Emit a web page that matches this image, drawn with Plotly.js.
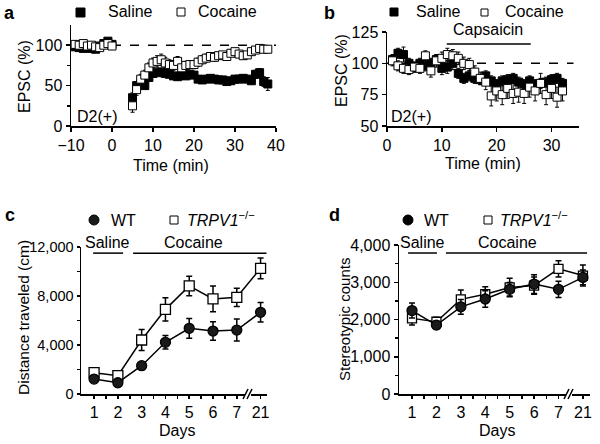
<!DOCTYPE html>
<html><head><meta charset="utf-8">
<script src="https://cdn.plot.ly/plotly-3.0.1.min.js"></script>
<style>body{margin:0;background:#fff}#chart{width:600px;height:444px}</style>
</head><body><div id="chart"></div>
<script>
// ---------- Panel a data ----------
const timeA = [-9,-8,-7,-6,-5,-4,-3,-2,-1,0,5,6,7,8,9,10,11,12,13,14,15,16,17,18,19,20,21,22,23,24,25,26,27,28,29,30,31,32,33,34,35,36,37,38];
const salineA = [98,97,96,98,96,95,99,102,105,101,35,50,52,50,60,65,66,67,65,64,62,61,63,62,64,63,58,57,58,59,58,57,57,55,56,58,58,59,58,56,64,66,55,52];
const salineAErr = [3,3,3,3,3,3,3,3,3,3,6,5,4,4,4,4,4,4,4,4,4,4,4,4,4,4,4,4,4,4,4,4,4,4,4,4,4,4,4,4,5,5,6,8];
const cocaineA = [101,100,102,99,100,98,97,100,102,99,25,45,58,63,72,78,80,82,78,76,75,80,72,75,76,76,79,82,84,86,85,87,88,86,90,92,89,87,88,92,94,96,95,95];
const cocaineAErr = [3,3,3,3,3,3,3,3,3,3,8,7,6,6,6,6,7,7,7,6,6,6,6,5,5,5,5,5,5,5,5,4,4,4,4,4,4,4,4,4,4,4,4,4];
// ---------- Panel b data ----------
const timeB = [1,2,3,4,5,6,7,8,9,10,11,12,13,14,15,16,17,18,19,20,21,22,23,24,25,26,27,28,29,30,31,32];
const salineB = [103,108,107,100,97,100,98,100,103,96,97,100,92,88,90,88,87,90,86,83,86,87,88,85,83,86,83,84,85,87,88,84];
const salineBErr = [4,4,6,4,4,4,4,4,4,5,5,5,4,4,4,4,4,4,4,4,4,4,4,4,4,4,4,4,4,4,4,4];
const cocaineB = [102,98,96,95,97,96,106,94,102,104,107,106,104,100,99,93,88,85,74,78,75,80,76,77,76,81,78,84,75,80,73,78];
const cocaineBErr = [4,4,4,4,4,4,4,5,5,5,5,5,5,5,5,5,5,6,8,8,8,8,8,8,8,8,8,8,8,8,8,8];
// ---------- Panels c, d data ----------
const days = ["1","2","3","4","5","6","7","21"];
const wtDist = [1220,920,2310,4220,5360,5140,5220,6670];
const wtDistErr = [250,200,300,550,800,750,900,800];
const koDist = [1740,1500,4410,6910,8820,7760,7890,10260];
const koDistErr = [200,200,850,950,800,1050,750,850];
const wtStereo = [2240,1850,2340,2550,2810,2950,2810,3130];
const wtStereoErr = [200,100,200,220,180,250,220,200];
const koStereo = [2030,1940,2540,2680,2860,2910,3360,3180];
const koStereoErr = [180,120,250,200,250,230,220,280];

const pos = days.map((d,i)=>i+1);
const FONT = "Liberation Sans, Arial, sans-serif";
const FS = 16;

function sq(x,y,err,filled,xa,ya,size){
  return {x:x,y:y,xaxis:xa,yaxis:ya,type:'scatter',mode:'markers',
    marker:{symbol:'square',size:size,color:filled?'#000':'#fff',line:{color:'#000',width:1}},
    error_y:{type:'data',array:err,visible:true,color:'#000',thickness:1,width:2},showlegend:false};
}
function lineTr(x,y,err,symbol,filled,xa,ya,size){
  return {x:x,y:y,xaxis:xa,yaxis:ya,type:'scatter',mode:'lines+markers',
    line:{color:'#000',width:1.5},
    marker:{symbol:symbol,size:size,color:filled?'#1a1a1a':'#fff',line:{color:'#000',width:1.3}},
    error_y:{type:'data',array:err,visible:true,color:'#000',thickness:1.5,width:3},showlegend:false};
}

const traces = [
  sq(timeA,salineA,salineAErr,true,'x','y',8),
  sq(timeA,cocaineA,cocaineAErr,false,'x','y',8),
  sq(timeB,salineB,salineBErr,true,'x2','y2',8),
  sq(timeB,cocaineB,cocaineBErr,false,'x2','y2',8),
  lineTr(pos,koDist,koDistErr,'square',false,'x3','y3',10),
  lineTr(pos,wtDist,wtDistErr,'circle',true,'x3','y3',10),
  lineTr(pos,koStereo,koStereoErr,'square',false,'x4','y4',9),
  lineTr(pos,wtStereo,wtStereoErr,'circle',true,'x4','y4',10)
];

const ax = {showline:true,linecolor:'#000',linewidth:1.5,ticks:'outside',ticklen:4,tickwidth:1.5,tickcolor:'#000',
  showgrid:false,zeroline:false,tickfont:{family:FONT,size:FS,color:'#000'},fixedrange:true};
function A(o){return Object.assign({},ax,o);}
const W=600,H=444;
const px=v=>v/W, py=v=>1-v/H;
const mn = (vals,len)=>({tickmode:'array',tickvals:vals,ticks:'outside',ticklen:len||3,tickcolor:'#000',tickwidth:1.5});

const layout = {
  width:W,height:H,margin:{l:0,r:0,t:0,b:0},paper_bgcolor:'#fff',plot_bgcolor:'rgba(0,0,0,0)',
  font:{family:FONT,color:'#000'},showlegend:false,
  xaxis:A({domain:[px(71),px(276)],range:[-10,40],tickmode:'array',tickvals:[-10,0,10,20,30,40],anchor:'y'}),
  yaxis:A({domain:[py(126),py(25)],range:[0,125],tickmode:'array',tickvals:[0,50,100],anchor:'x',minor:mn([25,75])}),
  xaxis2:A({domain:[px(387),px(579)],range:[0,35],tickmode:'array',tickvals:[0,10,20,30],anchor:'y2'}),
  yaxis2:A({domain:[py(126),py(32)],range:[50,125],tickmode:'array',tickvals:[50,75,100,125],anchor:'x2'}),
  xaxis3:A({domain:[px(81),px(267)],range:[0.45,8.27],tickmode:'array',tickvals:pos,ticktext:days,anchor:'y3',ticklen:3,
    minor:mn([1.5,2.5,3.5,4.5,5.5,6.5])}),
  yaxis3:A({domain:[py(394),py(247)],range:[0,12000],tickmode:'array',tickvals:[0,4000,8000,12000],
    ticktext:['0','4,000','8,000','12,000'],anchor:'x3',ticklen:3,minor:mn([2000,6000,10000]),
    tickfont:{family:FONT,size:14.5,color:'#000'}}),
  xaxis4:A({domain:[px(399),px(590)],range:[0.467,8.29],tickmode:'array',tickvals:pos,ticktext:days,anchor:'y4',ticklen:3,
    minor:mn([1.5,2.5,3.5,4.5,5.5,6.5])}),
  yaxis4:A({domain:[py(394),py(245)],range:[0,4000],tickmode:'array',tickvals:[0,1000,2000,3000,4000],
    ticktext:['0','1,000','2,000','3,000','4,000'],anchor:'x4',ticklen:4,minor:mn([500,1500,2500,3500])}),
  shapes:[
    {type:'line',xref:'x',yref:'y',x0:0,x1:40,y0:100,y1:100,line:{color:'#000',width:1.5,dash:'dash'},layer:'below'},
    {type:'line',xref:'x2',yref:'y2',x0:0,x1:34,y0:100,y1:100,line:{color:'#000',width:1.5,dash:'dash'},layer:'below'},
    {type:'line',xref:'x2',yref:'y2',x0:10.9,x1:26.2,y0:115.5,y1:115.5,line:{color:'#000',width:1.5}},
    {type:'line',xref:'x3',yref:'y3',x0:0.96,x1:2.22,y0:11500,y1:11500,line:{color:'#000',width:1.5}},
    {type:'line',xref:'x3',yref:'y3',x0:2.64,x1:8.25,y0:11500,y1:11500,line:{color:'#000',width:1.5}},
    {type:'line',xref:'x4',yref:'y4',x0:0.84,x1:2.02,y0:3785,y1:3785,line:{color:'#000',width:1.5}},
    {type:'line',xref:'x4',yref:'y4',x0:2.39,x1:8.17,y0:3785,y1:3785,line:{color:'#000',width:1.5}},
    // axis breaks
    {type:'rect',xref:'paper',yref:'paper',x0:px(245),x1:px(251),y0:py(397),y1:py(391),fillcolor:'#fff',line:{width:0}},
    {type:'line',xref:'paper',yref:'paper',x0:px(243),x1:px(248),y0:py(399),y1:py(389),line:{color:'#000',width:1.5}},
    {type:'line',xref:'paper',yref:'paper',x0:px(247),x1:px(252),y0:py(399),y1:py(389),line:{color:'#000',width:1.5}},
    {type:'rect',xref:'paper',yref:'paper',x0:px(566),x1:px(572),y0:py(397),y1:py(391),fillcolor:'#fff',line:{width:0}},
    {type:'line',xref:'paper',yref:'paper',x0:px(564),x1:px(569),y0:py(399),y1:py(389),line:{color:'#000',width:1.5}},
    {type:'line',xref:'paper',yref:'paper',x0:px(568),x1:px(573),y0:py(399),y1:py(389),line:{color:'#000',width:1.5}},
    // legend markers
    {type:'rect',xref:'paper',yref:'paper',x0:px(76),x1:px(85),y0:py(17),y1:py(8),fillcolor:'#000',line:{color:'#000',width:1}},
    {type:'rect',xref:'paper',yref:'paper',x0:px(177),x1:px(185),y0:py(16),y1:py(8),fillcolor:'#fff',line:{color:'#000',width:1}},
    {type:'rect',xref:'paper',yref:'paper',x0:px(390),x1:px(398),y0:py(16),y1:py(8),fillcolor:'#000',line:{color:'#000',width:1}},
    {type:'rect',xref:'paper',yref:'paper',x0:px(481),x1:px(488),y0:py(16),y1:py(9),fillcolor:'#fff',line:{color:'#000',width:1}},
    {type:'circle',xref:'paper',yref:'paper',x0:px(89),x1:px(99),y0:py(225),y1:py(215),fillcolor:'#1a1a1a',line:{color:'#000',width:1}},
    {type:'rect',xref:'paper',yref:'paper',x0:px(170),x1:px(178),y0:py(224),y1:py(216),fillcolor:'#fff',line:{color:'#000',width:1}},
    {type:'circle',xref:'paper',yref:'paper',x0:px(403),x1:px(413),y0:py(225),y1:py(215),fillcolor:'#000',line:{color:'#000',width:1}},
    {type:'rect',xref:'paper',yref:'paper',x0:px(484),x1:px(492),y0:py(224),y1:py(216),fillcolor:'#fff',line:{color:'#000',width:1}}
  ],
  annotations:[]
};
function T(text,x,y,o){
  return Object.assign({text:text,x:px(x),y:py(y),xref:'paper',yref:'paper',showarrow:false,
    font:{family:FONT,size:FS,color:'#000'},xanchor:'center',yanchor:'middle'},o||{});
}
const big = {family:FONT,size:18,color:'#000'};
layout.annotations.push(
  T('<b>a</b>',9,13,{font:big}),
  T('<b>b</b>',329,13,{font:big}),
  T('<b>c</b>',10,215,{font:big}),
  T('<b>d</b>',334,215,{font:big}),
  T('Saline',106,12,{xanchor:'left'}),
  T('Cocaine',196,12,{xanchor:'left'}),
  T('Saline',414,12,{xanchor:'left'}),
  T('Cocaine',503,12,{xanchor:'left'}),
  T('WT',109,220,{xanchor:'left'}),
  T('<i>TRPV1</i><sup>−/−</sup>',185,219,{xanchor:'left'}),
  T('WT',422,220,{xanchor:'left'}),
  T('<i>TRPV1</i><sup>−/−</sup>',498,219,{xanchor:'left'}),
  T('EPSC (%)',24,77,{textangle:-90}),
  T('Time (min)',171,166),
  T('D2(+)',97,117),
  T('EPSC (%)',342,70,{textangle:-90}),
  T('Time (min)',483,163),
  T('D2(+)',411,117),
  T('Capsaicin',488,29),
  T('Distance traveled (cm)',23,318,{textangle:-90,font:{family:FONT,size:15.5,color:'#000'}}),
  T('Days',177,430),
  T('Saline',107,243),
  T('Cocaine',193,243),
  T('Stereotypic counts',344,320,{textangle:-90,font:{family:FONT,size:15,color:'#000'}}),
  T('Days',497,430),
  T('Saline',422,243),
  T('Cocaine',507,243)
);
Plotly.newPlot('chart',traces,layout,{staticPlot:true,displayModeBar:false});
</script></body></html>
